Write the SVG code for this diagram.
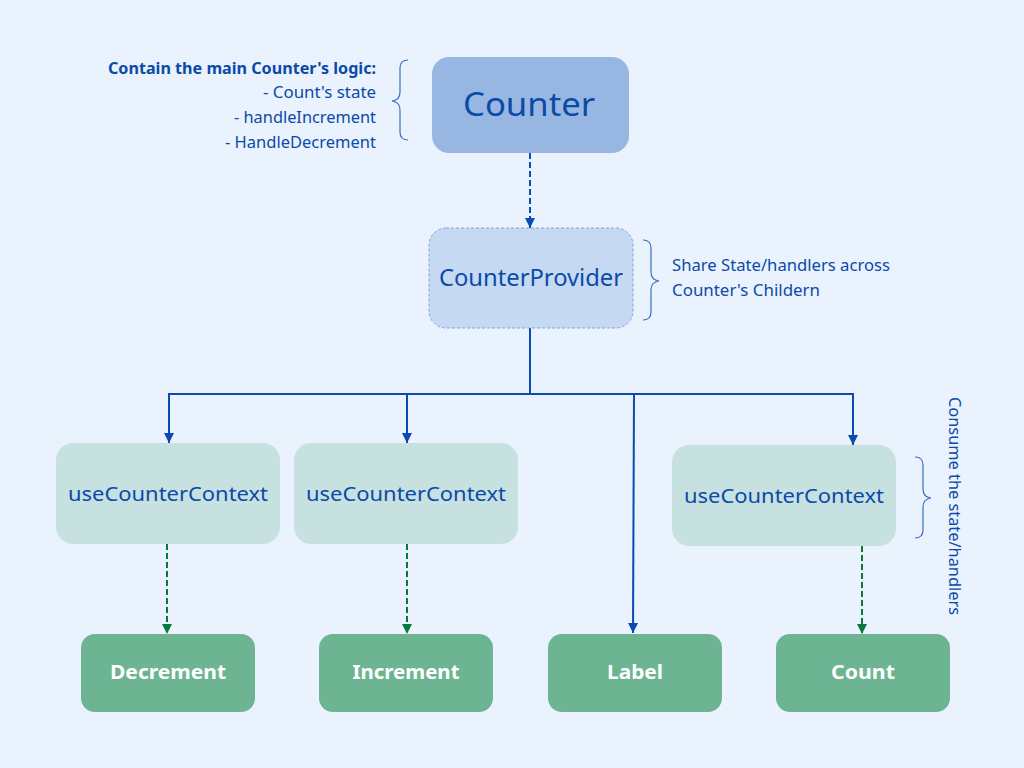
<svg xmlns="http://www.w3.org/2000/svg" width="1024" height="768" viewBox="0 0 1024 768">
<defs>
<style>
.t{font-family:"Noto Sans","Open Sans","Liberation Sans",sans-serif;}
.blue{fill:#0B4AA8;}
.ctx{fill:#C7E1E1;}
.leaf{fill:#6DB592;}
.leaftxt{fill:#FFFFFF;font-weight:bold;font-size:20px;text-anchor:middle;}
.ctxtxt{fill:#0B4AA8;font-size:20px;text-anchor:middle;}
.note{fill:#0B4AA8;font-size:16px;}
.solid{stroke:#0B4AB0;stroke-width:2;fill:none;}
.dashb{stroke:#0B4AB0;stroke-width:2;fill:none;stroke-dasharray:6 3;}
.dashg{stroke:#0A7A3A;stroke-width:2;fill:none;stroke-dasharray:6 3;}
.brace{stroke:#3A6FC4;stroke-width:1.2;fill:none;}
</style>
<marker id="ab" viewBox="0 0 10 10" refX="10" refY="5" markerWidth="5" markerHeight="5" orient="auto"><path d="M0,0 L10,5 L0,10 z" fill="#0B4AB0"/></marker>
<marker id="ag" viewBox="0 0 10 10" refX="10" refY="5" markerWidth="5" markerHeight="5" orient="auto"><path d="M0,0 L10,5 L0,10 z" fill="#0A7A3A"/></marker>
</defs>
<rect width="1024" height="768" fill="#EAF2FE"/>

<g id="connectors">
<line class="dashb" x1="530" y1="153" x2="530" y2="228" marker-end="url(#ab)"/>
<polyline class="solid" points="530,328 530,394"/>
<polyline class="solid" points="169,394 853,394"/>
<line class="solid" x1="169" y1="393" x2="169" y2="443" marker-end="url(#ab)"/>
<line class="solid" x1="407" y1="394" x2="407" y2="443" marker-end="url(#ab)"/>
<line class="solid" x1="853" y1="393" x2="853" y2="445" marker-end="url(#ab)"/>
<line class="solid" x1="634" y1="394" x2="633" y2="633" marker-end="url(#ab)"/>
<line class="dashg" x1="167" y1="544" x2="167" y2="634" marker-end="url(#ag)"/>
<line class="dashg" x1="407" y1="544" x2="407" y2="634" marker-end="url(#ag)"/>
<line class="dashg" x1="862" y1="546" x2="862" y2="634" marker-end="url(#ag)"/>
</g>

<g id="counter">
<rect x="432" y="57" width="197" height="96" rx="17" fill="#97B7E2"/>
<text class="t blue" x="529" y="116" font-size="33" text-anchor="middle" textLength="132" lengthAdjust="spacingAndGlyphs">Counter</text>
</g>

<g id="counterProvider">
<rect x="429" y="228" width="204" height="100" rx="17" fill="#C5D9F2" stroke="#7EA6DA" stroke-width="1" stroke-dasharray="3 2"/>
<text class="t blue" x="531" y="286" font-size="23" text-anchor="middle" textLength="184" lengthAdjust="spacingAndGlyphs">CounterProvider</text>
</g>

<g id="ctx1">
<rect class="ctx" x="56" y="443" width="224" height="101" rx="17"/>
<text class="t ctxtxt" x="168" y="501" textLength="200" lengthAdjust="spacingAndGlyphs">useCounterContext</text>
</g>
<g id="ctx2">
<rect class="ctx" x="294" y="443" width="224" height="101" rx="17"/>
<text class="t ctxtxt" x="406" y="501" textLength="200" lengthAdjust="spacingAndGlyphs">useCounterContext</text>
</g>
<g id="ctx3">
<rect class="ctx" x="672" y="445" width="224" height="101" rx="17"/>
<text class="t ctxtxt" x="784" y="503" textLength="200" lengthAdjust="spacingAndGlyphs">useCounterContext</text>
</g>

<g id="decrement">
<rect class="leaf" x="81" y="634" width="174" height="78" rx="14"/>
<text class="t leaftxt" x="168" y="679" textLength="116" lengthAdjust="spacingAndGlyphs">Decrement</text>
</g>
<g id="increment">
<rect class="leaf" x="319" y="634" width="174" height="78" rx="14"/>
<text class="t leaftxt" x="406" y="679" textLength="107" lengthAdjust="spacingAndGlyphs">Increment</text>
</g>
<g id="label">
<rect class="leaf" x="548" y="634" width="174" height="78" rx="14"/>
<text class="t leaftxt" x="635" y="679" textLength="56" lengthAdjust="spacingAndGlyphs">Label</text>
</g>
<g id="count">
<rect class="leaf" x="776" y="634" width="174" height="78" rx="14"/>
<text class="t leaftxt" x="863" y="679" textLength="64" lengthAdjust="spacingAndGlyphs">Count</text>
</g>

<g id="note-counter">
<text class="t note" x="376" y="74" text-anchor="end" font-weight="bold" textLength="268" lengthAdjust="spacingAndGlyphs">Contain the main Counter's logic:</text>
<text class="t note" x="376" y="98" text-anchor="end" textLength="113" lengthAdjust="spacingAndGlyphs">- Count's state</text>
<text class="t note" x="376" y="123" text-anchor="end" textLength="142" lengthAdjust="spacingAndGlyphs">- handleIncrement</text>
<text class="t note" x="376" y="148" text-anchor="end" textLength="151" lengthAdjust="spacingAndGlyphs">- HandleDecrement</text>
<path class="brace" d="M408,60 Q400,60 400,68 L400,92 Q400,100 392,101 Q400,102 400,110 L400,132 Q400,140 408,140"/>
</g>

<g id="note-provider">
<path class="brace" d="M643,240 Q651,240 651,248 L651,272 Q651,280 659,281 Q651,282 651,290 L651,312 Q651,320 643,320"/>
<text class="t note" x="672" y="271" textLength="218" lengthAdjust="spacingAndGlyphs">Share State/handlers across</text>
<text class="t note" x="672" y="296" textLength="148" lengthAdjust="spacingAndGlyphs">Counter's Childern</text>
</g>

<g id="note-consume">
<path class="brace" d="M915,457 Q923,457 923,465 L923,489 Q923,497 931,498 Q923,499 923,507 L923,530 Q923,538 915,538"/>
<text class="t note" transform="translate(949,397) rotate(90)" x="0" y="0" textLength="218" lengthAdjust="spacingAndGlyphs">Consume the state/handlers</text>
</g>
</svg>
